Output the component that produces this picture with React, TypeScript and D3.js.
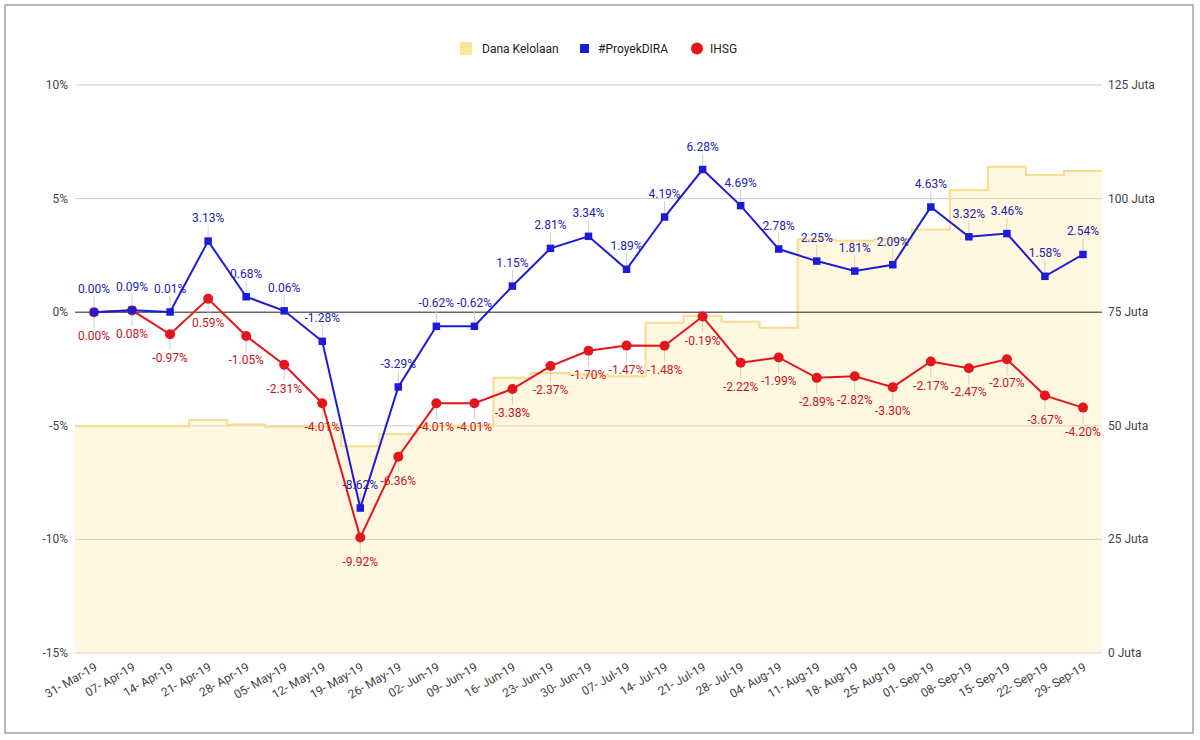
import React from 'react';
import * as d3 from 'd3';

const dates = [
  '31- Mar-19', '07- Apr-19', '14- Apr-19', '21- Apr-19', '28- Apr-19', '05- May-19',
  '12- May-19', '19- May-19', '26- May-19', '02- Jun-19', '09- Jun-19', '16- Jun-19',
  '23- Jun-19', '30- Jun-19', '07- Jul-19', '14- Jul-19', '21- Jul-19', '28- Jul-19',
  '04- Aug-19', '11- Aug-19', '18- Aug-19', '25- Aug-19', '01- Sep-19', '08- Sep-19',
  '15- Sep-19', '22- Sep-19', '29- Sep-19',
];

// Dana Kelolaan (Juta)
const danaKelolaan = [
  49.9, 49.9, 49.9, 51.3, 50.3, 49.8, 49.8, 45.5, 48.2, 50.0, 50.0, 60.6,
  61.6, 61.3, 60.9, 72.7, 74.2, 72.9, 71.6, 91.0, 90.7, 91.0, 93.2, 101.9,
  107.0, 105.2, 106.1,
];

// #ProyekDIRA (%)
const proyekDira = [
  0.0, 0.09, 0.01, 3.13, 0.68, 0.06, -1.28, -8.62, -3.29, -0.62, -0.62, 1.15,
  2.81, 3.34, 1.89, 4.19, 6.28, 4.69, 2.78, 2.25, 1.81, 2.09, 4.63, 3.32,
  3.46, 1.58, 2.54,
];

// IHSG (%)
const ihsg = [
  0.0, 0.08, -0.97, 0.59, -1.05, -2.31, -4.01, -9.92, -6.36, -4.01, -4.01, -3.38,
  -2.37, -1.7, -1.47, -1.48, -0.19, -2.22, -1.99, -2.89, -2.82, -3.3, -2.17, -2.47,
  -2.07, -3.67, -4.2,
];

const leftTicks = [-15, -10, -5, 0, 5, 10];
const rightTicks = [0, 25, 50, 75, 100, 125];

const W = 1200;
const H = 740;
const left = 75;
const right = 1102;
const top = 85;
const bottom = 653;

const FONT = 'Roboto, Arial, sans-serif';
const BLUE = '#1c1cd6';
const RED = '#e3161b';
const BLUE_TXT = '#2222b4';
const RED_TXT = '#c8141e';
const YELLOW = '#ffe599';

export default function App() {
  const x = d3.scaleBand<string>().domain(dates).range([left, right]).padding(0);
  const bw = x.bandwidth();
  const cx = (i: number) => (x(dates[i]) as number) + bw / 2;
  const yL = d3.scaleLinear().domain([-15, 10]).range([bottom, top]);
  const yR = d3.scaleLinear().domain([0, 125]).range([bottom, top]);

  // stepped area: one flat step per band
  const steps: [number, number][] = danaKelolaan.map((v, i) => [x(dates[i]) as number, v]);
  steps.push([right, danaKelolaan[danaKelolaan.length - 1]]);
  const areaPath = d3.area<[number, number]>()
    .x(d => d[0])
    .y0(yR(0))
    .y1(d => yR(d[1]))
    .curve(d3.curveStepAfter)(steps) as string;
  const stepLine = d3.line<[number, number]>()
    .x(d => d[0])
    .y(d => yR(d[1]))
    .curve(d3.curveStepAfter)(steps) as string;

  const line = d3.line<number>().x((_, i) => cx(i)).y(d => yL(d));

  const fmt = (v: number) => v.toFixed(2) + '%';

  return (
    <div style={{ position: 'absolute', left: 0, top: 0 }}>
      <svg width={W} height={H} viewBox={`0 0 ${W} ${H}`} style={{ display: 'block', fontFamily: FONT }}>
        <rect x={0} y={0} width={W} height={H} fill="#fff" />
        <rect x={5} y={5} width={1188} height={728} fill="none" stroke="#a3a3a3" strokeWidth={1.5} />

        {/* legend */}
        <g fontSize={12} fill="#222">
          <rect x={460} y={42} width={12} height={13} fill={YELLOW} />
          <text x={482} y={48.5} dominantBaseline="central">Dana Kelolaan</text>
          <rect x={580} y={44} width={9} height={9} fill={BLUE} />
          <text x={598} y={48.5} dominantBaseline="central">#ProyekDIRA</text>
          <circle cx={697} cy={48.5} r={6} fill={RED} />
          <text x={710} y={48.5} dominantBaseline="central">IHSG</text>
        </g>

        {/* gridlines */}
        {leftTicks.map(t => (
          <line key={t} x1={left} x2={right} y1={yL(t)} y2={yL(t)} stroke="#cccccc" strokeWidth={1} />
        ))}

        {/* Dana Kelolaan stepped area */}
        <path d={areaPath} fill={YELLOW} fillOpacity={0.3} />
        <path d={stepLine} fill="none" stroke="#f9dc8e" strokeWidth={2} />

        {/* zero baseline */}
        <line x1={left} x2={right} y1={yL(0)} y2={yL(0)} stroke="#333" strokeWidth={1} />

        {/* axis labels */}
        <g fontSize={12} fill="#444">
          {leftTicks.map(t => (
            <text key={t} x={68} y={yL(t)} textAnchor="end" dominantBaseline="central">{t + '%'}</text>
          ))}
          {rightTicks.map(t => (
            <text key={t} x={1108} y={yR(t)} dominantBaseline="central">{t + ' Juta'}</text>
          ))}
          {dates.map((d, i) => (
            <text key={d} transform={`translate(${cx(i) + 2},${666}) rotate(-30)`} textAnchor="end" dominantBaseline="central">{d}</text>
          ))}
        </g>

        {/* annotation stems */}
        <g stroke="#d0d0d0" strokeWidth={1}>
          {proyekDira.map((v, i) => (
            <line key={'bs' + i} x1={cx(i)} x2={cx(i)} y1={yL(v) - 4} y2={yL(v) - 16} />
          ))}
          {ihsg.map((v, i) => (
            <line key={'rs' + i} x1={cx(i)} x2={cx(i)} y1={yL(v) + 5} y2={yL(v) + 16} />
          ))}
        </g>

        {/* series */}
        <path d={line(ihsg) as string} fill="none" stroke={RED} strokeWidth={2} />
        {ihsg.map((v, i) => (
          <circle key={'rc' + i} cx={cx(i)} cy={yL(v)} r={5} fill={RED} />
        ))}
        <path d={line(proyekDira) as string} fill="none" stroke={BLUE} strokeWidth={2} />
        {proyekDira.map((v, i) => (
          <rect key={'bc' + i} x={cx(i) - 3.75} y={yL(v) - 3.75} width={7.5} height={7.5} fill={BLUE} />
        ))}

        {/* data labels */}
        <g fontSize={12} textAnchor="middle">
          {proyekDira.map((v, i) => (
            <text key={'bl' + i} x={cx(i)} y={yL(v) - 23} dominantBaseline="central" fill={BLUE_TXT}>{fmt(v)}</text>
          ))}
          {ihsg.map((v, i) => (
            <text key={'rl' + i} x={cx(i)} y={yL(v) + 24} dominantBaseline="central" fill={RED_TXT}>{fmt(v)}</text>
          ))}
        </g>
      </svg>
    </div>
  );
}
